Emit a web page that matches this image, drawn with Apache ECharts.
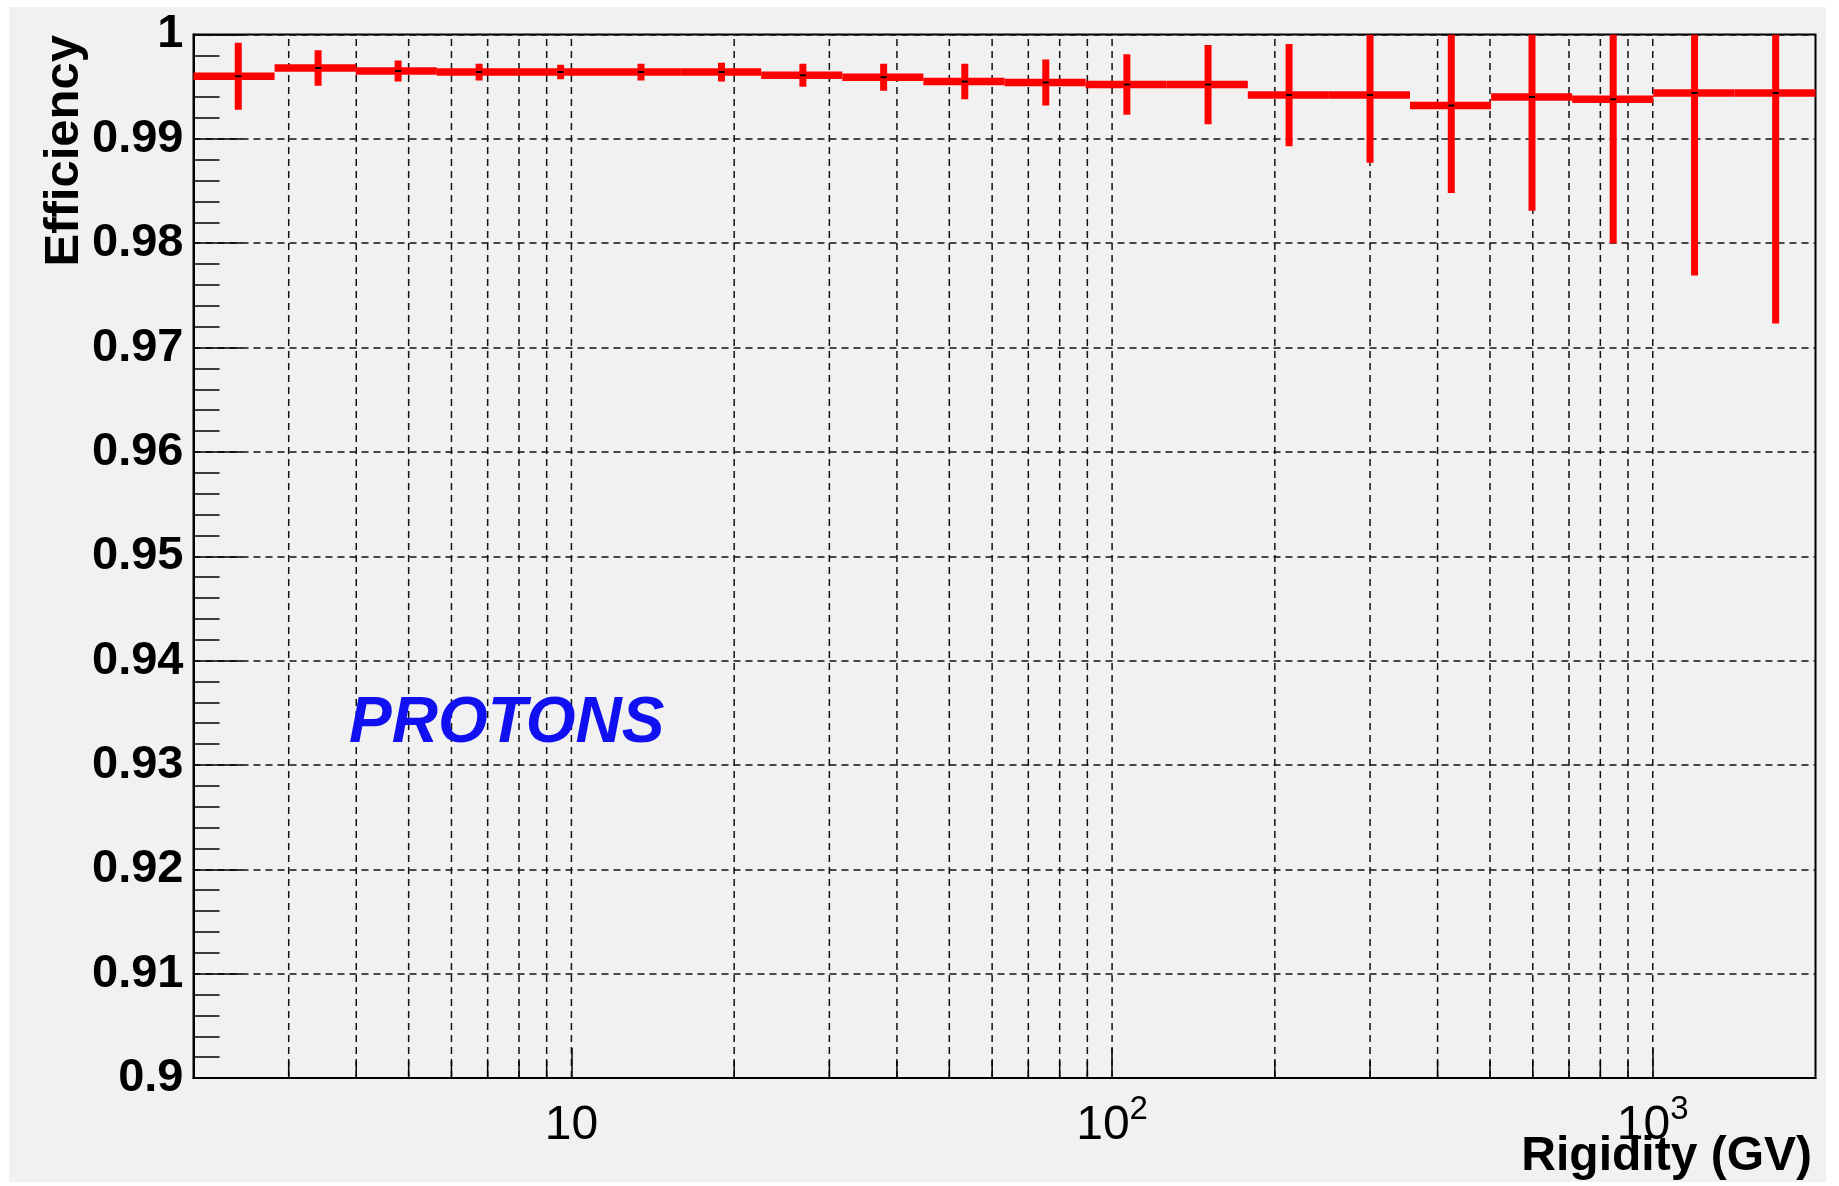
<!DOCTYPE html>
<html><head><meta charset="utf-8">
<script src="https://cdn.jsdelivr.net/npm/echarts@6/dist/echarts.min.js"></script>
<style>html,body{margin:0;padding:0;background:#fff}#c{width:1839px;height:1186px}</style>
</head><body><div id="c"></div>
<script>
// Bin edges (GV) of the rigidity histogram
const binLow  = [2, 2.825, 3.991, 5.637, 7.962, 11.247, 15.887, 22.44, 31.698, 44.774, 63.246, 89.337, 126.19, 178.25, 251.79, 355.66, 502.38, 709.63, 1002.4, 1415.9];
const binHigh = [2.825, 3.991, 5.637, 7.962, 11.247, 15.887, 22.44, 31.698, 44.774, 63.246, 89.337, 126.19, 178.25, 251.79, 355.66, 502.38, 709.63, 1002.4, 1415.9, 2000];
const binCenter = [2.42, 3.40, 4.78, 6.75, 9.55, 13.45, 18.95, 26.8, 37.8, 53.4, 75.4, 106.5, 150.5, 212.5, 300, 424, 598, 845, 1195, 1688];
const efficiency = [0.9960, 0.9968, 0.9965, 0.9964, 0.9964, 0.9964, 0.9964, 0.9961, 0.9959, 0.9955, 0.9954, 0.9952, 0.9952, 0.9942, 0.9942, 0.9932, 0.9940, 0.9938, 0.9944, 0.9944];
const errors = [0.0032, 0.0017, 0.0010, 0.0008, 0.0007, 0.0008, 0.0009, 0.0011, 0.0013, 0.0017, 0.0022, 0.0029, 0.0038, 0.0049, 0.0065, 0.0084, 0.0109, 0.0138, 0.0175, 0.0221];
const xGridValues = [3,4,5,6,7,8,9,10,20,30,40,50,60,70,80,90,100,200,300,400,500,600,700,800,900,1000];
const xMajorValues = [10, 100, 1000];
const xTickLabels = {1: '{b|10}', 2: '{b|10}{s|2}', 3: '{b|10}{s|3}'};

const chart = echarts.init(document.getElementById('c'), null, {renderer: 'canvas'});
const Y0 = 0.9, Y1 = 1.0;

const option = {
  backgroundColor: '#f1f1f1',
  animation: false,
  grid: {left: 193.5, right: 23.5, top: 34.5, bottom: 108, show: true, borderColor: '#000', borderWidth: 2, backgroundColor: 'transparent'},
  xAxis: {
    type: 'log', logBase: 10, min: 2, max: 2000,
    axisLine: {show: true, lineStyle: {color: '#000', width: 2}},
    axisTick: {show: true, inside: true, length: 30, lineStyle: {color: '#000', width: 1.5}},
    splitLine: {show: false},
    minorTick: {show: false},
    axisLabel: {
      margin: 15, color: '#000', fontFamily: 'Liberation Sans', fontSize: 48,
      showMinLabel: false, showMaxLabel: false,
      formatter: function (v) {
        const l = Math.log10(v); const r = Math.round(l);
        if (Math.abs(l - r) < 1e-6 && xTickLabels[r]) return xTickLabels[r];
        return '';
      },
      rich: {
        b: {fontSize: 48, fontFamily: 'Liberation Sans', color: '#000', lineHeight: 66, verticalAlign: 'middle'},
        s: {fontSize: 33, fontFamily: 'Liberation Sans', color: '#000', lineHeight: 33, verticalAlign: 'top'}
      }
    }
  },
  yAxis: {
    type: 'value', min: Y0, max: Y1, interval: 0.01,
    axisLine: {show: true, lineStyle: {color: '#000', width: 2}},
    axisTick: {show: true, inside: true, length: 49, lineStyle: {color: '#000', width: 1.5}},
    minorTick: {show: true, splitNumber: 5, length: 26, lineStyle: {color: '#000', width: 1.5}},
    splitLine: {show: true, lineStyle: {color: '#111', width: 1.5, type: [7, 5]}},
    axisLabel: {margin: 10, color: '#000', fontFamily: 'Liberation Sans', fontWeight: 'bold', fontSize: 47,
      formatter: function (v) { return String(+v.toFixed(2)); }}
  },
  graphic: [
    {type: 'rect', shape: {x: 0, y: 0, width: 9, height: 1186}, style: {fill: '#fff'}, silent: true},
    {type: 'rect', shape: {x: 0, y: 0, width: 1839, height: 7}, style: {fill: '#fff'}, silent: true},
    {type: 'rect', shape: {x: 1826, y: 0, width: 13, height: 1186}, style: {fill: '#fff'}, silent: true},
    {type: 'rect', shape: {x: 0, y: 1182, width: 1839, height: 4}, style: {fill: '#fff'}, silent: true},
    {type: 'text', x: 64, y: 35, rotation: Math.PI / 2,
      style: {text: 'Efficiency', fill: '#000', font: 'bold 49px "Liberation Sans"', textAlign: 'right', textVerticalAlign: 'middle'}},
    {type: 'text', x: 1812, y: 1157,
      style: {text: 'Rigidity (GV)', fill: '#000', font: 'bold 48px "Liberation Sans"', textAlign: 'right', textVerticalAlign: 'middle'}},
    {type: 'text', x: 349, y: 724, z: 100,
      style: {text: 'PROTONS', fill: '#1010f0', font: 'italic bold 64px "Liberation Sans"', textAlign: 'left', textVerticalAlign: 'middle'}}
  ],
  series: [
    {
      type: 'custom', name: 'grid', silent: true, z: 1,
      data: xGridValues.map(v => [v, Y0]),
      encode: {x: 0, y: 1},
      renderItem: function (params, api) {
        const v = api.value(0);
        const b = api.coord([v, Y0]), t = api.coord([v, Y1]);
        const ch = [{type: 'line', shape: {x1: b[0], y1: b[1], x2: t[0], y2: t[1]}, style: {stroke: '#111', lineWidth: 1.5, lineDash: [7, 5]}}];
        if (xMajorValues.indexOf(v) < 0) {
          ch.push({type: 'line', shape: {x1: b[0], y1: b[1], x2: b[0], y2: b[1] - 17}, style: {stroke: '#000', lineWidth: 1.5}});
        }
        return {type: 'group', children: ch};
      }
    },
    {
      type: 'custom', name: 'efficiency', z: 5, clip: true,
      data: binCenter.map((x, i) => [x, efficiency[i], errors[i], binLow[i], binHigh[i]]),
      encode: {x: 0, y: 1},
      renderItem: function (params, api) {
        const xc = api.value(0), v = api.value(1), e = api.value(2), lo = api.value(3), hi = api.value(4);
        const pL = api.coord([lo, v]), pR = api.coord([hi, v]);
        const pT = api.coord([xc, Math.min(v + e, Y1)]), pB = api.coord([xc, v - e]);
        const c = api.coord([xc, v]);
        return {type: 'group', children: [
          {type: 'line', shape: {x1: pL[0], y1: pL[1], x2: pR[0], y2: pR[1]}, style: {stroke: '#ff0000', lineWidth: 7.5}},
          {type: 'line', shape: {x1: pT[0], y1: pT[1], x2: pB[0], y2: pB[1]}, style: {stroke: '#ff0000', lineWidth: 7}},
          {type: 'rect', shape: {x: c[0] - 3, y: c[1] - 1, width: 6, height: 2}, style: {fill: '#000'}}
        ]};
      }
    }
  ]
};
chart.setOption(option);
</script>
</body></html>
